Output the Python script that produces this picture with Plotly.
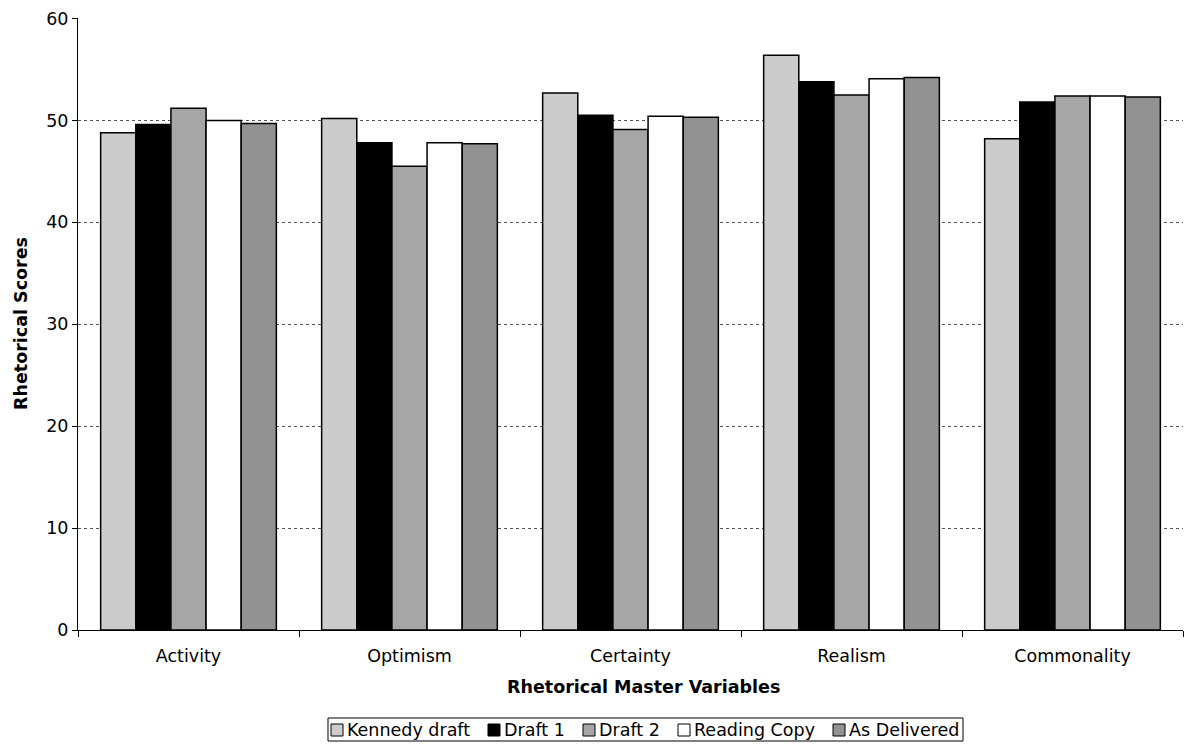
import plotly.graph_objects as go

categories = ["Activity", "Optimism", "Certainty", "Realism", "Commonality"]
kennedy_draft = [48.8, 50.2, 52.7, 56.4, 48.2]
draft_1 = [49.6, 47.8, 50.5, 53.8, 51.8]
draft_2 = [51.2, 45.5, 49.1, 52.5, 52.4]
reading_copy = [50.0, 47.8, 50.4, 54.1, 52.4]
as_delivered = [49.7, 47.7, 50.3, 54.2, 52.3]

series = [
    ("Kennedy draft", kennedy_draft, "#cccccc"),
    ("Draft 1", draft_1, "#000000"),
    ("Draft 2", draft_2, "#a6a6a6"),
    ("Reading Copy", reading_copy, "#ffffff"),
    ("As Delivered", as_delivered, "#929292"),
]

FONT = "DejaVu Sans, Verdana, sans-serif"
W, H = 1202, 744
ML, MR, MT, MB = 78, 19, 18, 114
PW, PH = W - ML - MR, H - MT - MB


def px_x(x):
    """Pixel column -> paper x."""
    return (x - ML) / PW


def px_y(y):
    """Pixel row -> paper y."""
    return (H - MB - y) / PH


fig = go.Figure()
for name, vals, color in series:
    fig.add_trace(go.Bar(
        name=name, x=categories, y=vals,
        marker=dict(color=color, line=dict(color="#000000", width=1.5)),
    ))

# legend drawn as a single boxed row below the axis title
legend_left, legend_right, legend_top, legend_bottom = 328, 963, 718, 741
item_left = [331, 488, 583, 678, 833]
shapes = [dict(type="rect", xref="paper", yref="paper",
               x0=px_x(legend_left), x1=px_x(legend_right),
               y0=px_y(legend_bottom), y1=px_y(legend_top),
               line=dict(color="#000000", width=1), fillcolor="white")]
annotations = []
for (name, _, color), lx in zip(series, item_left):
    shapes.append(dict(type="rect", xref="paper", yref="paper",
                       x0=px_x(lx), x1=px_x(lx + 12),
                       y0=px_y(736), y1=px_y(724),
                       line=dict(color="#000000", width=1), fillcolor=color))
    annotations.append(dict(text=name, xref="paper", yref="paper",
                            x=px_x(lx + 14), y=px_y(730), xanchor="left",
                            yanchor="middle", showarrow=False,
                            font=dict(size=17.5)))

annotations += [
    dict(text="<b>Rhetorical Master Variables</b>", xref="paper", yref="paper",
         x=px_x(643), y=px_y(687), xanchor="center", yanchor="middle",
         showarrow=False, font=dict(size=17.5)),
    dict(text="<b>Rhetorical Scores</b>", xref="paper", yref="paper",
         x=px_x(21), y=0.5, xanchor="center", yanchor="middle",
         showarrow=False, textangle=-90, font=dict(size=17.5)),
]

fig.update_layout(
    width=W, height=H,
    barmode="group", bargap=0.205, bargroupgap=0,
    plot_bgcolor="white", paper_bgcolor="white",
    margin=dict(l=ML, r=MR, t=MT, b=MB, autoexpand=False),
    font=dict(family=FONT, size=17.5, color="#000000"),
    showlegend=False,
    shapes=shapes,
    annotations=annotations,
    xaxis=dict(
        showline=True, linecolor="#000000", linewidth=1,
        ticks="outside", tickson="boundaries", ticklen=6, tickcolor="#000000",
        showgrid=False, automargin=False, ticklabelstandoff=10,
    ),
    yaxis=dict(
        range=[0, 60.05], tickvals=[0, 10, 20, 30, 40, 50, 60],
        showline=True, linecolor="#000000", linewidth=1,
        ticks="outside", ticklen=5, tickcolor="#000000",
        showgrid=True, gridcolor="#555555", griddash="dot", gridwidth=1,
        zeroline=False, automargin=False,
    ),
)

fig.write_html("out.html")
